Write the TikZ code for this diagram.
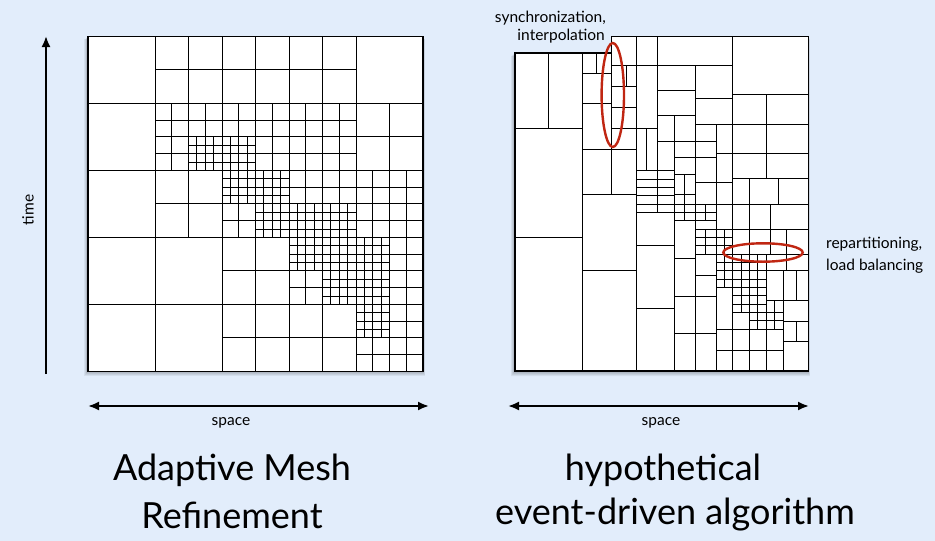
\documentclass[tikz,border=0pt]{standalone}
\usepackage{fontspec}
\setmainfont{Lato}
\usetikzlibrary{arrows.meta,shapes.geometric}
\definecolor{bgblue}{RGB}{226,237,251}
\definecolor{ellred}{RGB}{192,38,18}
\newcommand\amrgrid[5]{%
  \pgfmathtruncatemacro\amrnx{(#3-#1)/#5}%
  \pgfmathtruncatemacro\amrny{(#4-#2)/#5}%
  \foreach \k in {0,...,\amrnx}{\draw[gl] ({#1+\k*#5},#2) -- ({#1+\k*#5},#4);}%
  \foreach \k in {0,...,\amrny}{\draw[gl] (#1,{#2+\k*#5}) -- (#3,{#2+\k*#5});}%
}
\newcommand\hseg[3]{\draw[gl] (#2,#1) -- (#3,#1);}
\newcommand\vseg[3]{\draw[gl] (#1,#2) -- (#1,#3);}
\begin{document}
\begin{tikzpicture}[x=1pt,y=-1pt,
  gl/.style={line width=0.85pt,line cap=rect,black},
  border/.style={line width=1.1pt,black,line join=miter},
  lbl/.style={font=\fontsize{15.5}{18}\selectfont,inner sep=0pt},
  big/.style={font=\fontsize{36}{42}\selectfont,inner sep=0pt},
  arr/.style={line width=2pt,{Latex[length=11pt,width=9pt]}-{Latex[length=11pt,width=9pt]}},
  uparr/.style={line width=2pt,-{Latex[length=11pt,width=9pt]}},
  ell/.style={draw=ellred,line width=2.4pt,ellipse,inner sep=0pt}]
\fill[bgblue] (0,0) rectangle (935,541);
\useasboundingbox (0,0) rectangle (935,541);

% ---------- shadows
\foreach \s in {1,...,5}{
  \fill[black,opacity=0.06] (88-0.8*\s,36.3+0.6*\s) rectangle (423.3+0.3*\s,371.3+\s);
  \fill[black,opacity=0.06] (515-0.8*\s,53+0.6*\s) -- (611.7,53+0.6*\s) -- (611.7,36.3+0.6*\s)
     -- (808.3+0.3*\s,36.3+0.6*\s) -- (808.3+0.3*\s,371+\s) -- (515-0.8*\s,371+\s) -- cycle;
}

% ---------- left grid (AMR)
\fill[white] (88,36.3) rectangle (423.3,371.3);
\begin{scope}[shift={(88pt,-36.3pt)},x=8.375pt,y=-8.375pt]
  \amrgrid{0}{0}{40}{40}{8}
  \amrgrid{8}{0}{32}{8}{4}
  \amrgrid{32}{8}{40}{16}{4}
  \amrgrid{8}{16}{16}{24}{4}
  \amrgrid{16}{24}{24}{32}{4}
  \amrgrid{16}{32}{32}{40}{4}
  \amrgrid{8}{8}{32}{16}{2}
  \amrgrid{24}{16}{40}{20}{2}
  \amrgrid{32}{20}{40}{24}{2}
  \amrgrid{16}{20}{20}{24}{2}
  \amrgrid{36}{24}{40}{40}{2}
  \amrgrid{24}{28}{28}{32}{2}
  \amrgrid{32}{36}{36}{40}{2}
  \amrgrid{12}{12}{20}{16}{1}
  \amrgrid{16}{16}{24}{20}{1}
  \amrgrid{20}{20}{32}{24}{1}
  \amrgrid{24}{24}{36}{28}{1}
  \amrgrid{28}{28}{36}{32}{1}
  \amrgrid{32}{32}{36}{36}{1}
  \draw[border] (0,0) rectangle (40,40);
\end{scope}

% ---------- right grid (event driven)
\fill[white] (515,53) -- (611.7,53) -- (611.7,36.3) -- (808.3,36.3) -- (808.3,371) -- (515,371) -- cycle;
% left part
\vseg{548.3}{53}{128}
\hseg{128}{515}{582.3}
\hseg{237.3}{515}{582.3}
\vseg{582.3}{53}{371}
\vseg{596.7}{53}{73.7}
\hseg{73.7}{582.3}{611.7}
\hseg{103}{582.3}{611.7}
\hseg{149}{582.3}{636.7}
\vseg{611.7}{53}{194.7}
\hseg{194.7}{582.3}{636.7}
\hseg{270.7}{582.3}{636.7}
\vseg{636.7}{36.3}{371}
\vseg{626}{65.3}{86.3}
\hseg{65.3}{611.7}{732.7}
\hseg{86.3}{611.7}{636.7}
\hseg{107.3}{611.7}{636.7}
\hseg{128}{611.7}{657.3}
\vseg{646.7}{128}{170.7}
\hseg{170.7}{636.7}{674}
\hseg{179}{636.7}{674}
\hseg{187.3}{636.7}{674}
\hseg{195.7}{636.7}{674}
\hseg{204}{636.7}{808.3}
\hseg{212.3}{636.7}{716}
\vseg{657.3}{36.3}{212.3}
\hseg{245.7}{636.7}{674}
\hseg{308.3}{636.7}{674}
% middle part
\vseg{674}{115.7}{371}
\vseg{695}{65.3}{371}
\hseg{90.3}{657.3}{695}
\hseg{115.7}{657.3}{695}
\hseg{141.3}{657.3}{716}
\hseg{157.3}{674}{716}
\hseg{174}{674}{695}
\vseg{684.3}{174}{220.7}
\hseg{194.7}{674}{695}
\hseg{98.7}{695}{732.7}
\hseg{124}{695}{808.3}
\vseg{716}{124}{371}
\hseg{153.7}{716}{808.3}
\hseg{182.3}{695}{732.7}
\vseg{705.7}{204}{220.7}
\vseg{732.7}{36.3}{371}
\hseg{94}{732.7}{808.3}
\vseg{766}{94}{178}
\hseg{178}{732.7}{808.3}
\vseg{749.3}{178}{204}
\vseg{778.3}{178}{204}
% lower part
\hseg{220.7}{674}{716}
\hseg{258.3}{674}{695}
\hseg{296}{674}{716}
\hseg{333.3}{674}{716}
\hseg{229}{695}{808.3}
\hseg{237.3}{695}{732.7}
\hseg{245.7}{695}{732.7}
\hseg{254}{695}{808.3}
\vseg{705.7}{229}{254}
\hseg{275}{695}{716}
\vseg{724.3}{229}{287.3}
\hseg{262.3}{716}{766}
\hseg{270.7}{716}{808.3}
\hseg{279}{716}{766}
\hseg{287.3}{716}{766}
\vseg{749.3}{204}{371}
\vseg{770}{204}{254}
\vseg{786.7}{229}{270.7}
\vseg{741}{254}{312.3}
\vseg{757.7}{254}{329.3}
\vseg{766}{254}{371}
\vseg{774.3}{300}{329.3}
\hseg{295.7}{732.7}{766}
\hseg{304}{732.7}{766}
\hseg{300}{766}{808.3}
\hseg{312.3}{732.7}{783.3}
\hseg{320.7}{749.3}{783.3}
\vseg{783.3}{270.7}{371}
\vseg{796.7}{270.7}{300}
\vseg{796.7}{321.7}{341.7}
\hseg{321.7}{783.3}{808.3}
\hseg{341.7}{783.3}{808.3}
\hseg{329.3}{716}{783.3}
\hseg{350}{716}{783.3}
\draw[border] (515,53) -- (611.7,53) -- (611.7,36.3) -- (808.3,36.3) -- (808.3,371) -- (515,371) -- cycle;

% ---------- highlight ellipses
\node[ell,minimum width=22.4pt,minimum height=104pt] (syncell) at (612.8,95) {};
\node[ell,minimum width=79.4pt,minimum height=18.4pt] (repell) at (763,252.5) {};

% ---------- axes
\coordinate (tb) at (46,374);
\coordinate (tt) at (46,36);
\draw[uparr] (tb) -- (tt);
\coordinate (s1l) at (88,406);
\coordinate (s1r) at (429,406);
\draw[arr] (s1l) -- (s1r);
\coordinate (s2l) at (508,406);
\coordinate (s2r) at (809,406);
\draw[arr] (s2l) -- (s2r);

% ---------- labels
\node[lbl,anchor=base east] (sync1) at (606,22) {synchronization,};
\node[lbl,anchor=base east] (sync2) at (605,40) {interpolation};
\node[lbl,anchor=base west] (rep1) at (826,248) {repartitioning,};
\node[lbl,anchor=base west] (rep2) at (826,270) {load balancing};
\node[lbl,rotate=90] (time) at (28,210) {time};
\node[lbl] (sp1) at (231,423) {space};
\node[lbl] (sp2) at (661,423) {space};
\node[big] (t1a) at (232,470) {Adaptive Mesh};
\node[big] (t1b) at (232,515) {Refinement};
\node[big] (t2a) at (663,470) {hypothetical};
\node[big] (t2b) at (675,515) {event-driven algorithm};
\end{tikzpicture}
\end{document}
